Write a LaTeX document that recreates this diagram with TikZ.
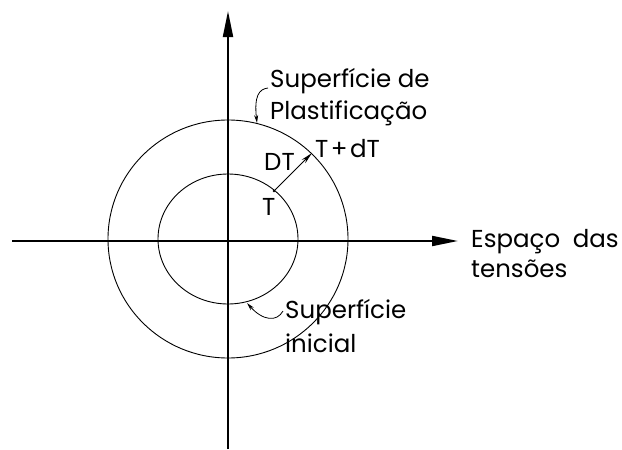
\documentclass[tikz,border=0pt]{standalone}
\usepackage{fontspec}
\setmainfont{Poppins}
\usetikzlibrary{arrows.meta}
\begin{document}
\begin{tikzpicture}[x=1pt,y=-1pt,
  axis/.style={line width=2pt,-{Triangle[length=26pt,width=10pt]}},
  curve/.style={line width=0.9pt},
  leader/.style={line width=0.8pt,-{Stealth[length=8pt,width=4pt]}},
  vec/.style={line width=1pt,-{Stealth[length=12pt,width=5pt]}},
  lbl/.style={font=\fontsize{24.5}{29}\selectfont,inner sep=0pt,anchor=base west,align=left}]
\useasboundingbox (0,0) rectangle (622,450);
% axes
\coordinate (xs) at (12,241);
\coordinate (xe) at (458,241);
\coordinate (ys) at (228,449);
\coordinate (ye) at (228,11);
\draw[axis] (xs) -- (xe);
\draw[axis] (ys) -- (ye);
% surfaces
\coordinate (c) at (228,239);
\draw[curve] (c) ellipse [x radius=120, y radius=119];
\draw[curve] (c) ellipse [x radius=70, y radius=65];
% vector
\coordinate (t) at (274,191);
\coordinate (tdt) at (312,153);
\fill (t) circle (1.3);
\draw[vec] (t) -- (tdt);
% labels
\node[lbl] (sp1) at (270,87) {Superfície de};
\node[lbl] (sp2) at (270,119) {Plastificação};
\node[lbl] (dt) at (264,170) {DT};
\node[lbl] (tpdt) at (315,157) {T\kern2.5pt+\kern2.5pt dT};
\node[lbl] (tt) at (262,215) {T};
\node[lbl] (si1) at (285,318) {Superfície};
\node[lbl] (si2) at (285,352) {inicial};
\node[lbl] (esp1) at (471,247) {Espaço\hspace{6pt} das};
\node[lbl] (esp2) at (471,277) {tensões};
% leaders
\coordinate (a1) at (268,88);
\coordinate (b1) at (257,123);
\draw[leader] (a1) .. controls (259,89) and (254,96) .. (b1);
\coordinate (a2) at (283,311);
\coordinate (b2) at (247,303);
\draw[leader] (a2) .. controls (277,322) and (263,321) .. (b2);
\end{tikzpicture}
\end{document}
